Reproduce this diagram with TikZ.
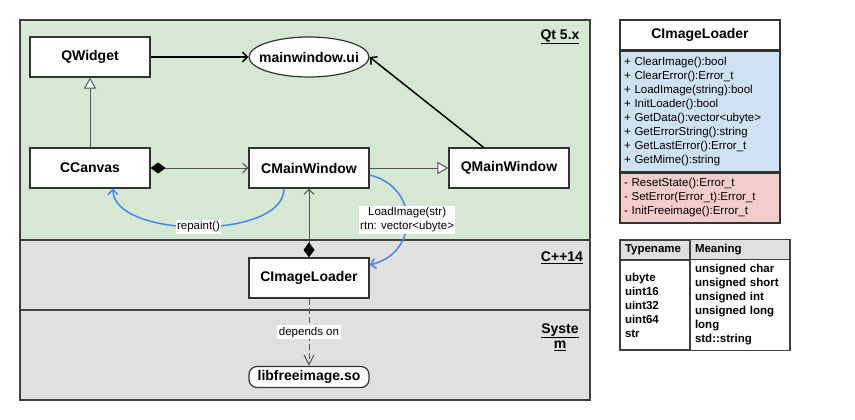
\documentclass[tikz,border=0pt]{standalone}
\usepackage{fontspec}
\setmainfont{Liberation Sans}
\usetikzlibrary{arrows.meta,shapes.geometric,positioning}
\definecolor{qtgreen}{HTML}{D5E8D4}
\definecolor{layergray}{HTML}{E0E0E0}
\definecolor{pubblue}{HTML}{CFE2F3}
\definecolor{privred}{HTML}{F4CCCC}
\definecolor{callblue}{HTML}{4A86E8}
\definecolor{edgegray}{HTML}{555555}
\definecolor{boxline}{HTML}{333333}
\definecolor{frameline}{HTML}{404040}

\begin{document}
\begin{tikzpicture}[x=1pt,y=-1pt,
	cls/.style={draw=boxline, line width=1.2pt, fill=white, minimum width=120pt, minimum height=40pt, inner sep=0pt, font=\fontsize{14}{16}\selectfont\bfseries},
	lbl/.style={fill=white, text=black, inner sep=1.5pt, font=\fontsize{11.5}{14}\selectfont},
	layer/.style={align=center, font=\fontsize{14}{15}\selectfont\bfseries},
	assoc/.style={black, line width=1.5pt, -{Straight Barb[length=5pt,width=10pt]}},
	inherit/.style={edgegray, line width=1pt, -{Triangle[length=11pt,width=12pt,fill=white]}},
	comp/.style={edgegray, line width=1pt, {Diamond[length=15pt,width=11pt,color=black,fill=black]}-{Straight Barb[length=5pt,width=10pt]}},
	dep/.style={edgegray, line width=1pt, dash pattern=on 6pt off 3pt, -{Straight Barb[length=10pt,width=10pt]}},
	call/.style={callblue, line width=1.5pt, -{Straight Barb[length=5pt,width=10pt]}},
	members/.style={draw=boxline, line width=1.5pt, minimum width=160pt, text width=152pt, inner sep=4pt, align=left, font=\fontsize{11.5}{14}\selectfont},
	thead/.style={draw=frameline, line width=1.5pt, fill=layergray, minimum height=20pt, inner sep=5pt, align=left, font=\fontsize{11.5}{14}\selectfont\bfseries},
	tbody/.style={draw=frameline, line width=1.5pt, fill=white, minimum height=90pt, inner sep=5pt, align=left, font=\fontsize{11.5}{14}\selectfont\bfseries}]
	\def \lw{ 120 };
	\useasboundingbox (0,0) rectangle (855,420);
	\draw[frameline, line width=2pt, fill=qtgreen] (20,20) rectangle (590,240);
	\draw[frameline, line width=2pt, fill=layergray] (20,240) rectangle (590,310);
	\draw[frameline, line width=2pt, fill=layergray] (20,310) rectangle (590,400);
	\node[layer] (qtlayer) at (560,37) {\underline{Qt 5.x}};
	\node[layer] (cpplayer) at (562,258) {\underline{C++14}};
	\node[layer] (syslayer) at (560,337) {\underline{Syste}\\\underline{m}};
	\node[cls] (qwidget) at (90,57) {QWidget};
	\node[cls, ellipse, inner xsep=-10pt, minimum width=\lw pt] (ui) at (309,57) {mainwindow.ui};
	\node[cls] (canvas) at (90,168) {CCanvas};
	\node[cls] (mainwin) at (309,168) {CMainWindow};
	\node[cls] (qmainwin) at (509,168) {QMainWindow};
	\node[cls] (loader) at (309,278) {CImageLoader};
	\node[cls, rounded corners=8pt, minimum height=21pt] (lib) at (309,377) {libfreeimage.so};
	\draw[assoc] (qwidget) -- (ui);
	\draw[assoc] (qmainwin.141) -- (ui.east);
	\draw[inherit] (canvas) -- (qwidget);
	\draw[inherit] (mainwin) -- (qmainwin);
	\draw[comp] (canvas) -- (mainwin);
	\draw[comp] (loader) -- (mainwin);
	\draw[dep] (loader) -- node[lbl] {depends on} (lib);
	\draw[call] ([xshift=-25pt]mainwin.south) .. controls +(0,52) and +(0,50) .. node[lbl] {repaint()} ([xshift=23pt]canvas.south);
	\draw[call, {Straight Barb[length=5pt,width=10pt]}-] ([yshift=13pt]loader.east) .. controls +(50,-12) and +(50,12) .. node[lbl, align=center] {LoadImage(str)\\rtn: vector<ubyte>} ([yshift=-7pt]mainwin.east);
	\node[cls, minimum width=160pt, minimum height=30pt, line width=1.5pt] (ctitle) at (700,35) {CImageLoader};
	\node[members, fill=pubblue, minimum height=120pt, below=0pt of ctitle] (cpub) {+ ClearImage():bool\\+ ClearError():Error\_t\\+ LoadImage(string):bool\\+ InitLoader():bool\\+ GetData():vector<ubyte>\\+ GetErrorString():string\\+ GetLastError():Error\_t\\+ GetMime():string};
	\node[members, fill=privred, minimum height=50pt, below=0pt of cpub] (cpriv) {- ResetState():Error\_t\\- SetError(Error\_t):Error\_t\\- InitFreeimage():Error\_t};
	\node[thead, text width=60pt] (tname) at (655,250) {Typename};
	\node[thead, text width=90pt] (tmean) at (740,250) {Meaning};
	\node[tbody, text width=60pt] (tleft) at (655,305) {ubyte\\uint16\\uint32\\uint64\\str};
	\node[tbody, text width=90pt] (tright) at (740,305) {unsigned char\\unsigned short\\unsigned int\\unsigned long\\long\\std::string};
\end{tikzpicture}
\end{document}
